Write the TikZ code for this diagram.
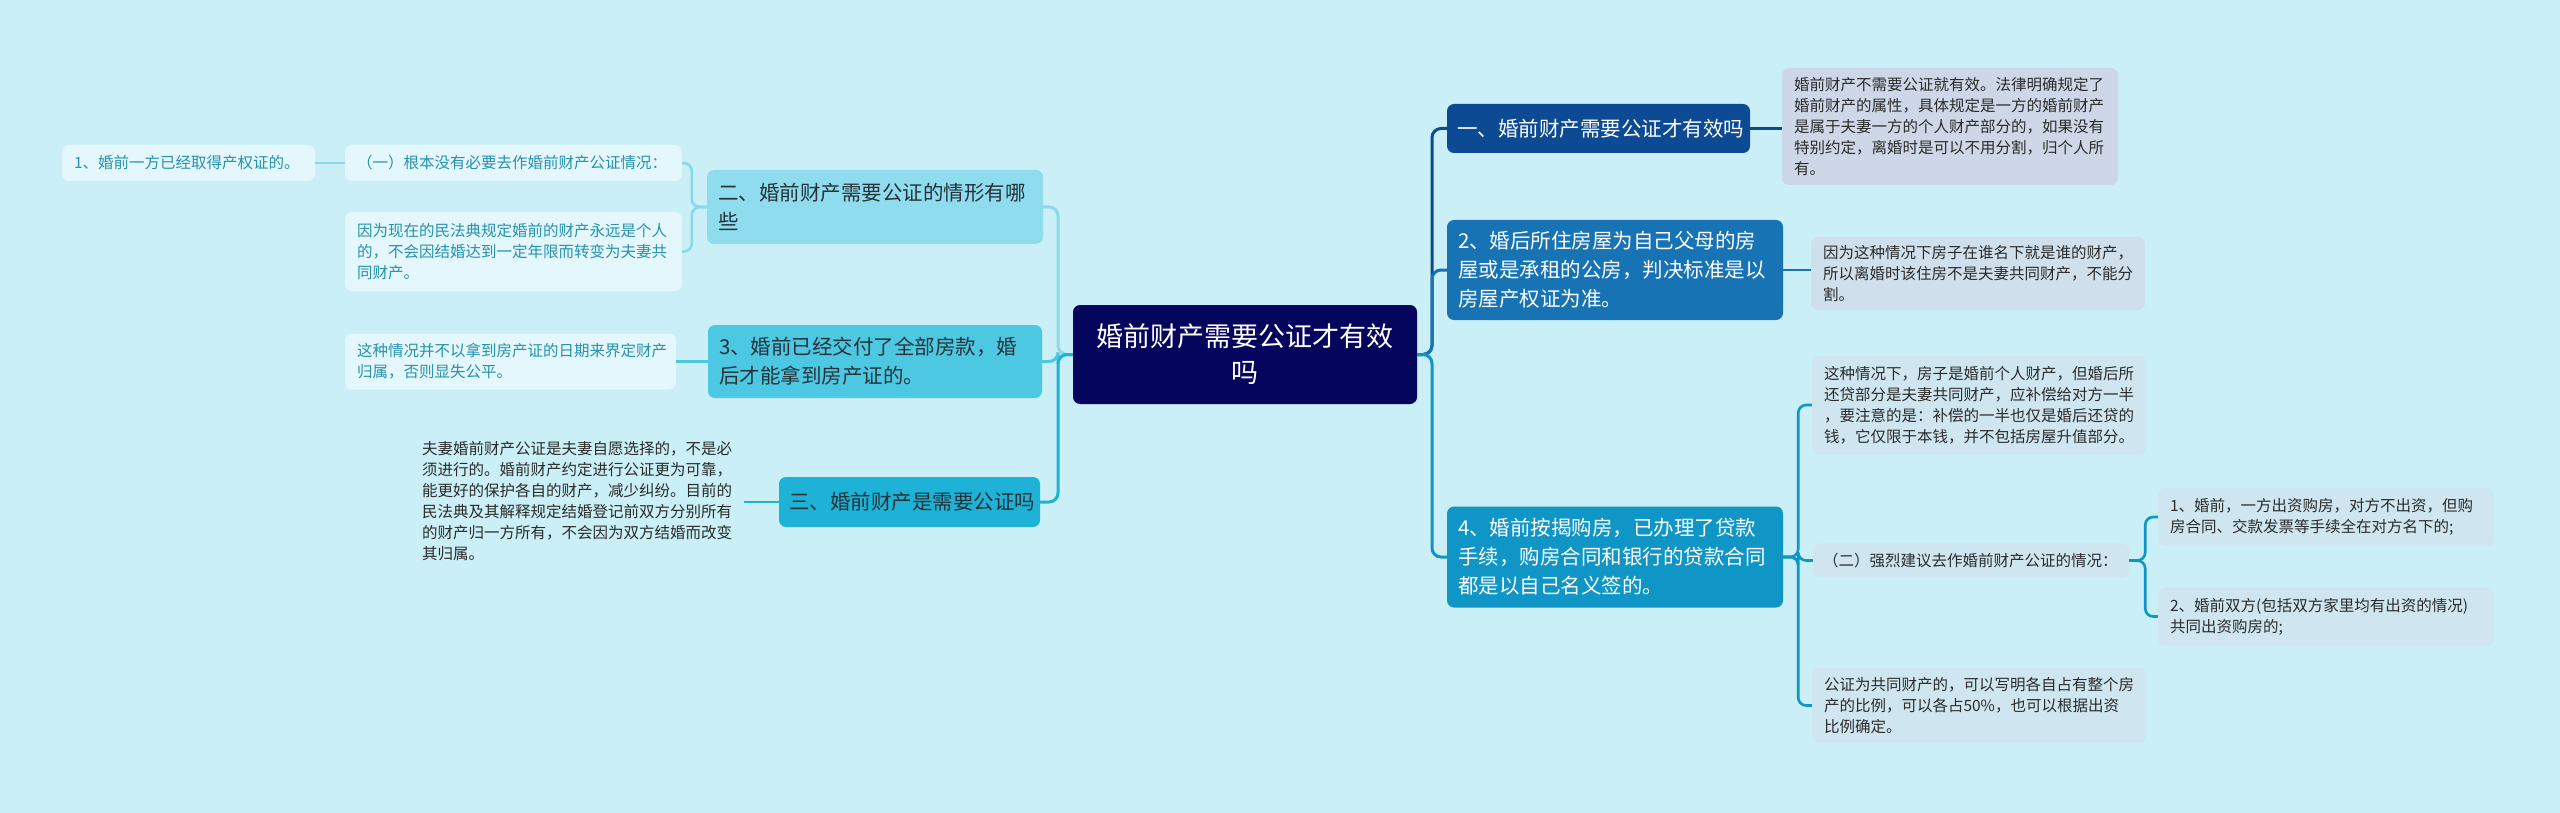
\documentclass[tikz,border=0pt]{standalone}
\usepackage{fontspec}
\setmainfont{Noto Sans CJK SC}
\definecolor{bgc}{HTML}{CAEFF7}
\definecolor{cfill}{HTML}{05055E}
\definecolor{bA}{HTML}{0C4A93}
\definecolor{bB}{HTML}{1773B3}
\definecolor{bD}{HTML}{0F96C6}
\definecolor{lA}{HTML}{8FDCEE}
\definecolor{lB}{HTML}{4DC8E3}
\definecolor{lC}{HTML}{1EB2D6}
\definecolor{lAline}{HTML}{8AD8EA}
\definecolor{leafL}{HTML}{E4F7FC}
\definecolor{leafLtext}{HTML}{2592AE}
\definecolor{tA}{HTML}{CDD7E7}
\definecolor{tB}{HTML}{D0DFEC}
\definecolor{tD}{HTML}{CFE6F1}
\definecolor{darktext}{HTML}{263238}
\definecolor{leaftext}{HTML}{2B2B2B}
\newcommand{\fcentral}{\fontsize{27}{36}\selectfont}
\newcommand{\fbranch}{\fontsize{20.5}{29}\selectfont}
\newcommand{\fleaf}{\fontsize{15.5}{21}\selectfont}
\tikzset{
  boxbase/.style={rounded corners=7pt, inner ysep=0pt, inner xsep=12pt, align=left, anchor=center},
  central/.style={boxbase, fill=cfill, text=white, align=center, font=\fcentral},
  branch/.style={boxbase, font=\fbranch, inner xsep=11pt},
  leafbox/.style={boxbase, font=\fleaf},
  conn/.style={line width=3pt, rounded corners=9pt},
  leafconn/.style={line width=2.6pt, rounded corners=8pt},
}
\begin{document}
\begin{tikzpicture}[x=1pt,y=-1pt]
\fill[bgc] (0,0) rectangle (2560,813);
\useasboundingbox (0,0) rectangle (2560,813);

% central
\node[central, text width=320pt, minimum height=99pt] (c) at (1245,354.5) {婚前财产需要公证才有效\\吗};

% right branches
\node[branch, fill=bA, text=white, text width=283pt, minimum height=49pt, inner xsep=10pt] (n1) at (1598.5,128.5) {一、婚前财产需要公证才有效吗};
\node[branch, fill=bB, text=white, text width=314pt, minimum height=100pt] (n2) at (1615,270) {2、婚后所住房屋为自己父母的房\\屋或是承租的公房，判决标准是以\\房屋产权证为准。};
\node[branch, fill=bD, text=white, text width=314pt, minimum height=101pt] (n4) at (1615,557) {4、婚前按揭购房，已办理了贷款\\手续，购房合同和银行的贷款合同\\都是以自己名义签的。};

% right leaves
\node[leafbox, fill=tA, text=leaftext, text width=312pt, minimum height=117pt] (t1) at (1950,126.5) {婚前财产不需要公证就有效。法律明确规定了\\婚前财产的属性，具体规定是一方的婚前财产\\是属于夫妻一方的个人财产部分的，如果没有\\特别约定，离婚时是可以不用分割，归个人所\\有。};
\node[leafbox, fill=tB, text=leaftext, text width=310pt, minimum height=73pt] (t2) at (1978,273.5) {因为这种情况下房子在谁名下就是谁的财产，\\所以离婚时该住房不是夫妻共同财产，不能分\\割。};
\node[leafbox, fill=tD, text=leaftext, text width=310pt, minimum height=98pt] (t4a) at (1979,405) {这种情况下，房子是婚前个人财产，但婚后所\\还贷部分是夫妻共同财产，应补偿给对方一半\\，要注意的是：补偿的一半也仅是婚后还贷的\\钱，它仅限于本钱，并不包括房屋升值部分。};
\node[leafbox, fill=tD, text=leaftext, text width=296pt, minimum height=34pt, inner xsep=10pt] (t4b) at (1971,560.5) {（二）强烈建议去作婚前财产公证的情况：};
\node[leafbox, fill=tD, text=leaftext, text width=310pt, minimum height=75pt] (t4c) at (1979,705.5) {公证为共同财产的，可以写明各自占有整个房\\产的比例，可以各占50\%，也可以根据出资\\比例确定。};
\node[leafbox, fill=tD, text=leaftext, text width=312pt, minimum height=58pt] (t4d) at (2326,517) {1、婚前，一方出资购房，对方不出资，但购\\房合同、交款发票等手续全在对方名下的;};
\node[leafbox, fill=tD, text=leaftext, text width=312pt, minimum height=58pt] (t4e) at (2326,616.5) {2、婚前双方(包括双方家里均有出资的情况)\\共同出资购房的;};

% left branches
\node[branch, fill=lA, text=darktext, text width=314pt, minimum height=74pt] (nA) at (875,207) {二、婚前财产需要公证的情形有哪\\些};
\node[branch, fill=lB, text=darktext, text width=312pt, minimum height=73pt] (nB) at (875,361.5) {3、婚前已经交付了全部房款，婚\\后才能拿到房产证的。};
\node[branch, fill=lC, text=darktext, text width=241pt, minimum height=50pt, inner xsep=10pt] (nC) at (909.5,502) {三、婚前财产是需要公证吗};

% left leaves
\node[leafbox, fill=leafL, text=leafLtext, text width=313pt, minimum height=36pt] (k1) at (513.5,163) {（一）根本没有必要去作婚前财产公证情况：};
\node[leafbox, fill=leafL, text=leafLtext, text width=229pt, minimum height=36pt] (k0) at (188.5,163) {1、婚前一方已经取得产权证的。};
\node[leafbox, fill=leafL, text=leafLtext, text width=313pt, minimum height=79pt] (k2) at (513.5,251.5) {因为现在的民法典规定婚前的财产永远是个人\\的，不会因结婚达到一定年限而转变为夫妻共\\同财产。};
\node[leafbox, fill=leafL, text=leafLtext, text width=307pt, minimum height=56pt] (k3) at (510.5,361.5) {这种情况并不以拿到房产证的日期来界定财产\\归属，否则显失公平。};
\node[leafbox, text=leaftext, text width=322pt, inner xsep=0pt, minimum height=128pt] (kC) at (583,501) {夫妻婚前财产公证是夫妻自愿选择的，不是必\\须进行的。婚前财产约定进行公证更为可靠，\\能更好的保护各自的财产，减少纠纷。目前的\\民法典及其解释规定结婚登记前双方分别所有\\的财产归一方所有，不会因为双方结婚而改变\\其归属。};

% trunk coordinates
\coordinate (rt) at (1432,354.5);
\coordinate (lt) at (1058,354.5);

% right connectors
\draw[conn, bA] (c.east) -- (rt) |- (n1.west);
\draw[conn, bB] (c.east) -- (rt) |- (n2.west);
\draw[conn, bD] (c.east) -- (rt) |- (n4.west);
\draw[leafconn, bA] (n1.east) -- (n1.east -| t1.west);
\draw[leafconn, bB] (n2.east) -- (n2.east -| t2.west);
\draw[leafconn, bD] (n4.east) -- ++(15,0) |- (t4a.west);
\draw[leafconn, bD] (n4.east) -- ++(15,0) |- (t4b.west);
\draw[leafconn, bD] (n4.east) -- ++(15,0) |- (t4c.west);
\draw[leafconn, bD] (t4b.east) -- ++(16,0) |- (t4d.west);
\draw[leafconn, bD] (t4b.east) -- ++(16,0) |- (t4e.west);

% left connectors
\draw[conn, lAline] (c.west) -- (lt) |- (nA.east);
\draw[conn, lB] (c.west) -- (lt) |- (nB.east);
\draw[conn, lC] (c.west) -- (lt) |- (nC.east);
\draw[leafconn, lAline] (nA.west) -- ++(-15,0) |- (k1.east);
\draw[leafconn, lAline] (nA.west) -- ++(-15,0) |- (k2.east);
\draw[leafconn, lAline] (k1.west) -- (k0.east);
\draw[leafconn, lB] (nB.west) -- (nB.west -| k3.east);
\draw[leafconn, lC] (nC.west) -- (nC.west -| kC.east);
\end{tikzpicture}
\end{document}
